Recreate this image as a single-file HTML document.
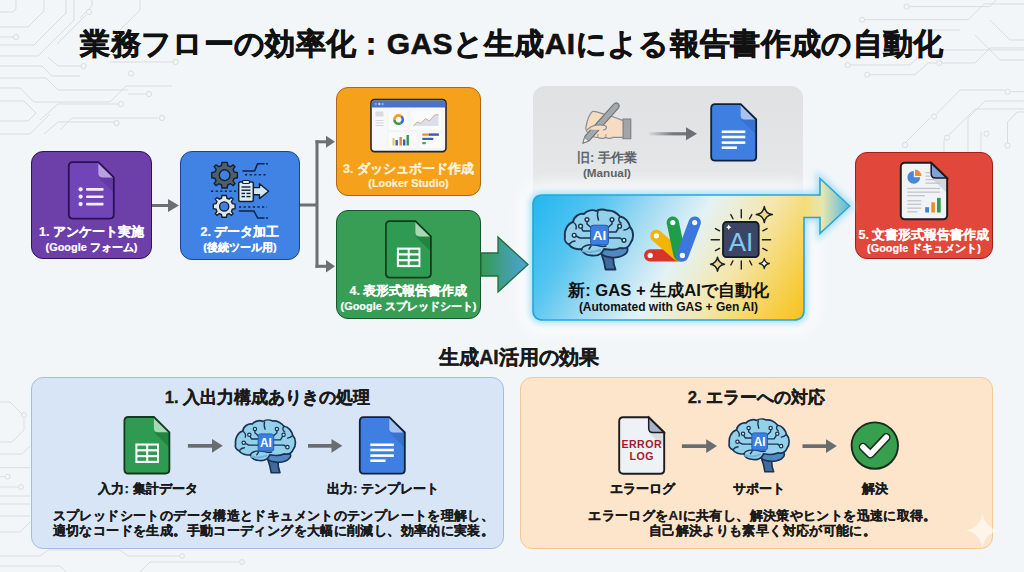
<!DOCTYPE html>
<html lang="ja">
<head>
<meta charset="utf-8">
<style>
*{box-sizing:border-box;margin:0;padding:0}
html,body{width:1024px;height:572px;overflow:hidden}
body{position:relative;background:#f2f6f9;font-family:"Liberation Sans",sans-serif;color:#1a1a1a}
.abs{position:absolute}
.title{position:absolute;left:0;top:25px;width:1024px;text-align:center;font-size:30px;font-weight:bold;line-height:38px;white-space:nowrap;color:#111;letter-spacing:0.35px;-webkit-text-stroke:0.6px #111}
.box{position:absolute;border-radius:12px;color:#fff;text-align:center;font-weight:bold;white-space:nowrap}
.box .t1{position:absolute;left:0;width:100%;font-size:12.5px;line-height:15px;-webkit-text-stroke:0.2px currentColor}
.box .t2{position:absolute;left:0;width:100%;font-size:10.9px;line-height:12px;-webkit-text-stroke:0.2px currentColor}
.purple{left:31px;top:151px;width:121px;height:108px;background:#6c3fa9;border:1.5px solid #321260}
.blue{left:180px;top:151px;width:120px;height:109px;background:#4083e4;border:1.5px solid #1c4390}
.orange{left:336px;top:87px;width:145px;height:109px;background:#f5a11c;border:1.5px solid #a86a14;color:#fdf1d8}
.green{left:336px;top:210px;width:145px;height:109px;background:#389d55;border:1.5px solid #17552a}
.red{left:855px;top:152px;width:138px;height:107px;background:#e1473a;border:1.5px solid #9c2219}
.gray{position:absolute;left:533px;top:86px;width:270px;height:150px;background:linear-gradient(#dfe1e3,#e5e6e8 60%,#eceef0);border-radius:12px}
.panel{position:absolute;border-radius:12px;text-align:center}
.pl{left:31px;top:377px;width:473px;height:172px;background:#d8e5f7;border:1.5px solid #a3bde2}
.pr{left:520px;top:377px;width:473px;height:172px;background:#fce5cb;border:1.5px solid #f1c995}
.ph{position:absolute;left:0;width:100%;font-size:16.7px;font-weight:bold;line-height:20px;-webkit-text-stroke:0.3px #1a1a1a}
.lab{position:absolute;font-size:13.4px;font-weight:bold;-webkit-text-stroke:0.25px #1a1a1a;line-height:16px;white-space:nowrap;transform:translateX(-50%)}
.desc{position:absolute;left:6px;width:100%;font-size:13.4px;letter-spacing:0.38px;font-weight:bold;-webkit-text-stroke:0.2px #1a1a1a;line-height:16px;white-space:nowrap}
.sub{position:absolute;left:7px;width:1024px;top:346px;text-align:center;font-size:19.5px;font-weight:bold;line-height:22px;-webkit-text-stroke:0.4px #1a1a1a}
</style>
</head>
<body>
<svg class="abs" style="left:0;top:0" width="1024" height="572" id="bg">
  <g fill="none" stroke="#d8dde2" stroke-width="1" stroke-linejoin="round">
    <path d="M0 12 H13 L16 9 V0"/>
    <path d="M0 27 H28 L44 11 V0"/>
    <path d="M0 37 H13"/>
    <path d="M0 45 H34 L66 13 V0"/>
    <path d="M0 56 H38 L74 20 V0"/>
    <path d="M57 44 L86 15"/>
    <path d="M0 66 H42 L52 76 H80"/>
    <path d="M48 57 L58 66 H81"/>
    <path d="M0 78 H46 L58 90 H128"/>
    <path d="M0 88 H20 L34 102 H110 L126 86 H172"/>
    <path d="M0 101 H24 L36 113 L28 121 H0"/>
    <path d="M40 120 L58 104 H118"/>
    <path d="M0 134 H30 L50 114"/>
    <path d="M44 134 L58 122 H114"/>
    <path d="M110 62 H173"/>
    <path d="M146 94 L128 94"/>
    <path d="M60 130 L72 118 H158"/>
    <path d="M92 0 V6 L80 18"/>
    <path d="M140 0 V10 L118 32"/>
  </g>
  <g fill="#f2f6f9" stroke="#d8dde2" stroke-width="1">
    <circle cx="16" cy="37" r="2.6"/><circle cx="89" cy="12" r="2.6"/><circle cx="83.5" cy="66" r="2.6"/>
    <circle cx="131" cy="73.5" r="2.6"/><circle cx="175.6" cy="62" r="2.6"/><circle cx="149" cy="94" r="2.6"/>
    <circle cx="121" cy="104" r="2.6"/><circle cx="162" cy="118" r="2.6"/><circle cx="116.6" cy="123" r="2.6"/>
  </g>
  <g fill="none" stroke="#d8dde2" stroke-width="1" stroke-linejoin="round">
    <path d="M865 19.7 H968 L984 4 H1024"/>
    <path d="M909 6.6 H990 L996 0"/>
    <path d="M850 65 H910 L926 50 H1024"/>
    <path d="M870 74.7 H915 L928 63 H936"/>
    <path d="M942 63 H975 L990 48 H1024"/>
    <path d="M990 20 L1010 40 H1024"/>
    <path d="M975 35 L1000 60 H1024"/>
    <path d="M936.5 114 L960 90 H1004.5"/>
    <path d="M949 135 L975 109 H1024"/>
    <path d="M968 152 V118 L985 101 H1024"/>
    <path d="M981 152 V132"/>
    <path d="M1007.5 143 V122 L1017 112 H1024"/>
    <path d="M1010 91.7 H1024"/>
    <path d="M920 30 H960"/>
    <path d="M944 152 V140 L960 124"/>
    <path d="M905 143 L930 118"/>
  </g>
  <g fill="#f2f6f9" stroke="#d8dde2" stroke-width="1">
    <circle cx="862" cy="19.7" r="2.6"/><circle cx="906.6" cy="6.6" r="2.6"/><circle cx="847.6" cy="65" r="2.6"/>
    <circle cx="867.2" cy="74.7" r="2.6"/><circle cx="939.3" cy="63" r="2.6"/><circle cx="934" cy="116.6" r="2.6"/>
    <circle cx="947" cy="137.6" r="2.6"/><circle cx="1007.5" cy="91.7" r="2.6"/><circle cx="986.5" cy="133.7" r="2.6"/>
    <circle cx="1007.5" cy="145.5" r="2.6"/><circle cx="905" cy="145" r="2.6"/>
  </g>
  <g fill="none" stroke="#d9dee3" stroke-width="1" stroke-linejoin="round">
    <path d="M0 402 H10 L24 416"/>
    <path d="M24 418 V430 L12 442 H0"/>
    <path d="M0 454 H22 L30 446"/>
    <path d="M0 467.7 H30"/>
    <path d="M0 476.7 H5"/>
    <path d="M0 487 H18"/>
    <path d="M0 496 H30"/>
    <path d="M0 504 H30"/>
    <path d="M0 516 H30"/>
    <path d="M0 532 H20 L30 522"/>
    <path d="M0 556 H40 L48 550 H120 L128 556 H180"/>
    <path d="M0 566 H60 L66 572"/>
    <path d="M140 572 L150 562 H240"/>
  </g>
  <g fill="#f2f6f9" stroke="#d9dee3" stroke-width="1">
    <circle cx="24" cy="415" r="2.4"/><circle cx="7.5" cy="476.7" r="2.4"/><circle cx="21" cy="487" r="2.4"/><circle cx="182" cy="556" r="2.4"/><circle cx="242" cy="562" r="2.4"/>
  </g>
</svg>

<div class="title">業務フローの効率化：GASと生成AIによる報告書作成の自動化</div>

<!-- flow boxes -->
<div class="box purple">
  <div class="t1" style="top:73px">1. アンケート実施</div>
  <div class="t2" style="top:89.3px">(Google フォーム)</div>
</div>
<div class="box blue">
  <div class="t1" style="top:73px">2. データ加工</div>
  <div class="t2" style="top:89.3px">(後続ツール用)</div>
</div>
<div class="box orange">
  <div class="t1" style="top:74px">3. ダッシュボード作成</div>
  <div class="t2" style="top:89.3px">(Looker Studio)</div>
</div>
<div class="box green">
  <div class="t1" style="top:73px">4. 表形式報告書作成</div>
  <div class="t2" style="top:89.3px">(Google スプレッドシート)</div>
</div>
<div class="box red">
  <div class="t1" style="top:75px">5. 文書形式報告書作成</div>
  <div class="t2" style="top:89px">(Google ドキュメント)</div>
</div>

<div class="gray"></div>

<svg class="abs" style="left:0;top:0;overflow:visible" width="1024" height="572">
  <defs>
    <linearGradient id="gNew" x1="533" y1="195" x2="782" y2="354" gradientUnits="userSpaceOnUse">
      <stop offset="0" stop-color="#22b6ef"/>
      <stop offset="0.2" stop-color="#55c5f1"/>
      <stop offset="0.36" stop-color="#a2dbf3"/>
      <stop offset="0.52" stop-color="#e4f2f6"/>
      <stop offset="0.7" stop-color="#f4e7ae"/>
      <stop offset="0.86" stop-color="#f6d35a"/>
      <stop offset="1" stop-color="#f6c21c"/>
    </linearGradient>
    <linearGradient id="gArr" x1="804" y1="0" x2="850" y2="0" gradientUnits="userSpaceOnUse">
      <stop offset="0" stop-color="#f5dc78"/>
      <stop offset="0.4" stop-color="#e6e6ae"/>
      <stop offset="1" stop-color="#52b6e6"/>
    </linearGradient>
    <linearGradient id="gBig" x1="482" y1="0" x2="528" y2="0" gradientUnits="userSpaceOnUse">
      <stop offset="0" stop-color="#359a57"/>
      <stop offset="1" stop-color="#4ea3dc"/>
    </linearGradient>
    <filter id="glow2" x="-30%" y="-50%" width="160%" height="200%"><feGaussianBlur stdDeviation="3"/></filter>
    <filter id="glow" x="-30%" y="-50%" width="160%" height="200%">
      <feGaussianBlur stdDeviation="9"/>
    </filter>
  </defs>
  <!-- connectors -->
  <g fill="#6c6f73" stroke="none">
    <rect x="152" y="204" width="17" height="3"/>
    <path d="M168 199 L179 205.5 L168 212 Z"/>
    <rect x="300" y="203.5" width="17" height="3"/>
    <rect x="315.5" y="140.3" width="3" height="127.5"/>
    <rect x="315.5" y="140.3" width="12" height="3"/>
    <path d="M326 135.8 L335 141.8 L326 147.8 Z"/>
    <rect x="315.5" y="264.8" width="12" height="3"/>
    <path d="M326 260 L335 266.3 L326 272.6 Z"/>
  </g>
  <!-- new box glow -->
  <rect x="533" y="195" width="271" height="125" rx="10" fill="#ffffff" opacity="0.95" filter="url(#glow)" stroke="#ffffff" stroke-width="22"/>
  <path d="M543 195 L820 195 L820 178.5 L849.5 206 L820 233.5 L820 217.5 L804 217.5 L804 310 Q804 320 794 320 L543 320 Q533 320 533 310 L533 205 Q533 195 543 195 Z" fill="#a8dff8" filter="url(#glow2)" stroke="#a8dff8" stroke-width="7"/>
  <!-- big arrow green->new -->
  <path d="M481 253 L498 253 L498 237 L528 264.5 L498 292 L498 276 L481 276 Z" fill="url(#gBig)" stroke="#1f6e3c" stroke-width="1.3"/>
  <path d="M543 195 L820 195 L820 178.5 L849.5 206 L820 233.5 L820 217.5 L804 217.5 L804 310 Q804 320 794 320 L543 320 Q533 320 533 310 L533 205 Q533 195 543 195 Z" fill="url(#gNew)"/>
  <path d="M803 196.2 L820.6 196.2 L820.6 180.3 L848.5 206 L820.6 231.7 L820.6 216.6 L803 216.6 Z" fill="url(#gArr)"/>
  <path d="M543 195 L820 195 L820 178.5 L849.5 206 L820 233.5 L820 217.5 L804 217.5 L804 310 Q804 320 794 320 L543 320 Q533 320 533 310 L533 205 Q533 195 543 195 Z" fill="none" stroke="#26a6dc" stroke-width="1.6"/>
</svg>

<div class="abs" style="left:533px;top:195px;width:271px;height:123px;text-align:center;font-weight:bold;white-space:nowrap;color:#111">
  <div class="abs" style="left:0;width:100%;top:86.3px;font-size:16.6px;line-height:20px">新: GAS + 生成AIで自動化</div>
  <div class="abs" style="left:0;width:100%;top:105px;font-size:12px;line-height:14px">(Automated with GAS + Gen AI)</div>
</div>
<div class="abs" style="left:566px;top:151px;width:82px;text-align:center;font-size:13px;font-weight:bold;color:#5f6368;white-space:nowrap;line-height:14px">旧: 手作業</div>
<div class="abs" style="left:566px;top:166px;width:82px;text-align:center;font-size:11.7px;font-weight:bold;color:#5f6368;white-space:nowrap;line-height:14px">(Manual)</div>

<svg class="abs" style="left:0;top:0;overflow:visible;z-index:2" width="1024" height="572">
  <defs>
    <path id="docShape" d="M4 0 H29.5 L45 15.3 V52.5 Q45 56.5 41 56.5 H4 Q0 56.5 0 52.5 V4 Q0 0 4 0 Z"/>
    <path id="foldShape" d="M29.5 0 V11 Q29.5 15.3 33.8 15.3 H45 Z"/>
    <path id="foldShadow" d="M29.5 15.3 L45 30.5 V15.3 Z"/>
    <symbol id="docsIcon" viewBox="0 0 45 57" overflow="visible">
      <use href="#docShape" fill="#3e7fe1"/>
      <use href="#foldShadow" fill="#3469c4" opacity="0.6"/>
      <use href="#foldShape" fill="#a9c3f0"/>
      <use href="#docShape" fill="none" stroke="#102038" stroke-width="1.8"/>
      <g fill="#ffffff">
        <rect x="10.5" y="26.3" width="23.6" height="2.6"/>
        <rect x="10.5" y="31.5" width="23.6" height="2.6"/>
        <rect x="10.5" y="37.1" width="23.6" height="2.6"/>
        <rect x="10.5" y="42.2" width="15.3" height="2.6"/>
      </g>
    </symbol>
    <symbol id="sheetsIcon" viewBox="0 0 45 57" overflow="visible">
      <use href="#docShape" fill="#2f9b52"/>
      <use href="#foldShadow" fill="#1e7a3c" opacity="0.7"/>
      <use href="#foldShape" fill="#a8d9b3"/>
      <use href="#docShape" fill="none" stroke="#123b1e" stroke-width="1.8"/>
      <rect x="11" y="26.5" width="23.5" height="19.5" fill="#ffffff"/>
      <g fill="#2f9b52">
        <rect x="13" y="28.6" width="8.8" height="3.6"/>
        <rect x="23.8" y="28.6" width="8.8" height="3.6"/>
        <rect x="13" y="34.4" width="8.8" height="3.6"/>
        <rect x="23.8" y="34.4" width="8.8" height="3.6"/>
        <rect x="13" y="40.2" width="8.8" height="3.6"/>
        <rect x="23.8" y="40.2" width="8.8" height="3.6"/>
      </g>
    </symbol>
    <symbol id="brain" viewBox="0 0 74 68" overflow="visible">
      <path d="M39.5 49 Q42.5 57 43.5 64.5 L53.5 64.5 Q50.5 57 51.5 50 Z" fill="#3f6b9e" stroke="#1b3350" stroke-width="1.8" stroke-linejoin="round"/>
      <path d="M38 44 C40 40 50 38 58 39 C64 40 67 43 65 47 C62 52 53 53.5 46 52 C41 51 37.5 48 38 44 Z" fill="#4f89c4" stroke="#1b3350" stroke-width="1.8"/>
      <path d="M3 32 C2 26 5 19 11 17 C12 11 18 8 22 9 C24 6 30 4 34 6 C37 4 42 4 45 5.5 C50 5 55 8 58 11.5 C63 12 67 17 68 22 C72 26 72 34 68.5 38 C67 42 63 44 58 43 C54 45 47 45 42 44 C40 49 35 51 30 50.5 C25 50.5 21 48 19.5 44 C15 45 9 43 7 39.5 C4 38 2 35 3 32 Z" fill="#93d1ea" stroke="#1b3350" stroke-width="1.9" stroke-linejoin="round"/>
      <path d="M20 43.5 C22 39.5 30 39 36 40.5 C39 41.3 41 42 44 41" fill="none" stroke="#1b3350" stroke-width="1.5" stroke-linecap="round"/>
      <path d="M21 46 C26 47.5 33 47 38 45" fill="none" stroke="#6fb2da" stroke-width="2.2" stroke-linecap="round"/>
      <g fill="none" stroke="#1b3350" stroke-width="1.5" stroke-linecap="round" stroke-linejoin="round">
        <path d="M36 6.5 C35 9 35.5 12 36.5 15"/>
        <path d="M11 17 C14 19 15 21 14 24"/>
        <path d="M58 11.5 C56 14 56.5 16.5 59 18"/>
        <path d="M7 39.5 C9 37 11 36 13 36"/>
        <path d="M68 22 C66 24 64 25 62 25"/>
        <path d="M29 22.5 L25 19 L25 16.5"/>
        <path d="M29 26 L21 26 L19.5 23"/>
        <path d="M29 33 L18 33 L14 31"/>
        <path d="M46 22.5 L50 19 L50 16.5"/>
        <path d="M46 27 L54 27 L56.5 23"/>
        <path d="M46 33 L58 33 L60.5 35"/>
        <path d="M27 44 L29 41"/>
      </g>
      <g fill="#d4f0fa" stroke="#1b3350" stroke-width="1.4">
        <circle cx="25" cy="14.6" r="1.9"/><circle cx="50" cy="14.6" r="1.9"/><circle cx="18.6" cy="21.2" r="1.9"/>
        <circle cx="12.2" cy="30.3" r="1.9"/><circle cx="57.6" cy="21.2" r="1.9"/><circle cx="62" cy="35.3" r="1.9"/>
      </g>
      <rect x="28.6" y="20.2" width="17.8" height="19.7" rx="2.6" fill="#3b7fe2" stroke="#2656aa" stroke-width="1"/>
      <text x="37.5" y="35.3" text-anchor="middle" font-family="Liberation Sans, sans-serif" font-weight="bold" font-size="13.5" fill="#ffffff">AI</text>
    </symbol>
  </defs>

  <!-- Forms icon -->
  <g transform="translate(68.8,162.1)">
    <use href="#docShape" fill="#7145b8"/>
    <use href="#foldShadow" fill="#5a339a" opacity="0.6"/>
    <use href="#foldShape" fill="#b9a0de"/>
    <use href="#docShape" fill="none" stroke="#2b1152" stroke-width="1.8"/>
    <g fill="#f4ecff">
      <circle cx="11.8" cy="27.2" r="2.1"/><circle cx="11.8" cy="34.5" r="2.1"/><circle cx="11.8" cy="42" r="2.1"/>
      <rect x="17.2" y="26" width="17.6" height="2.6" rx="1"/>
      <rect x="17.2" y="33.3" width="17.6" height="2.6" rx="1"/>
      <rect x="17.2" y="40.7" width="17.6" height="2.6" rx="1"/>
    </g>
  </g>

  <!-- Gears icon (blue box) -->
  <g>
    <g stroke="#0f2340" stroke-width="1.6" fill="none" stroke-linecap="round" stroke-linejoin="round">
      <polyline points="243,171 254.6,171 257.6,163.8 264,163.8"/>
      <polyline points="239.5,211 254,211 257.6,218 264,218"/>
    </g>
    <g stroke="#0f2340" stroke-width="1.5" fill="none" stroke-dasharray="2.2 2.4">
      <line x1="245" y1="174.8" x2="267" y2="174.8"/>
      <line x1="211" y1="191.3" x2="238" y2="191.3"/>
      <line x1="239" y1="207" x2="267" y2="207"/>
      <line x1="266" y1="163.8" x2="268" y2="163.8"/>
      <line x1="266" y1="218" x2="268" y2="218"/>
    </g>
    <!-- big gear -->
    <g transform="translate(224.6,175.2)">
      <g fill="#4d5e6c" stroke="#13202e" stroke-width="1.4">
        <path d="M-2.6,-12.8 L2.6,-12.8 L3.2,-9.6 L5.8,-8.5 L8.5,-10.4 L10.4,-8.5 L8.5,-5.8 L9.6,-3.2 L12.8,-2.6 L12.8,2.6 L9.6,3.2 L8.5,5.8 L10.4,8.5 L8.5,10.4 L5.8,8.5 L3.2,9.6 L2.6,12.8 L-2.6,12.8 L-3.2,9.6 L-5.8,8.5 L-8.5,10.4 L-10.4,8.5 L-8.5,5.8 L-9.6,3.2 L-12.8,2.6 L-12.8,-2.6 L-9.6,-3.2 L-8.5,-5.8 L-10.4,-8.5 L-8.5,-10.4 L-5.8,-8.5 L-3.2,-9.6 Z"/>
      </g>
      <circle r="5.4" fill="#3f80e0" stroke="#13202e" stroke-width="1.4"/>
    </g>
    <!-- small gear -->
    <g transform="translate(224.2,206.4) scale(0.85)">
      <g fill="#e3e8ec" stroke="#13202e" stroke-width="1.6">
        <path d="M-2.6,-12.8 L2.6,-12.8 L3.2,-9.6 L5.8,-8.5 L8.5,-10.4 L10.4,-8.5 L8.5,-5.8 L9.6,-3.2 L12.8,-2.6 L12.8,2.6 L9.6,3.2 L8.5,5.8 L10.4,8.5 L8.5,10.4 L5.8,8.5 L3.2,9.6 L2.6,12.8 L-2.6,12.8 L-3.2,9.6 L-5.8,8.5 L-8.5,10.4 L-10.4,8.5 L-8.5,5.8 L-9.6,3.2 L-12.8,2.6 L-12.8,-2.6 L-9.6,-3.2 L-8.5,-5.8 L-10.4,-8.5 L-8.5,-10.4 L-5.8,-8.5 L-3.2,-9.6 Z"/>
      </g>
      <circle r="5.4" fill="#3f80e0" stroke="#13202e" stroke-width="1.6"/>
    </g>
    <!-- arrow -->
    <path d="M252 187.6 L259.5 187.6 L259.5 183.8 L268.6 191.2 L259.5 198.6 L259.5 194.8 L252 194.8 Z" fill="#cfe7f3" stroke="#13202e" stroke-width="1.4" stroke-linejoin="round"/>
    <!-- clipboard -->
    <rect x="238.7" y="182" width="14.6" height="19.5" rx="1.5" fill="#dcedf5" stroke="#13202e" stroke-width="1.5"/>
    <rect x="242.5" y="180.5" width="7" height="3" rx="1" fill="#dcedf5" stroke="#13202e" stroke-width="1.2"/>
    <g fill="#13202e">
      <rect x="241.5" y="186.3" width="9" height="1.4"/>
      <rect x="241.5" y="189.5" width="9" height="1.4"/>
      <rect x="241.5" y="192.7" width="3.5" height="1.4"/><rect x="246.5" y="192.7" width="4" height="1.4"/>
      <rect x="241.5" y="195.9" width="3.5" height="1.4"/><rect x="246.5" y="195.9" width="4" height="1.4"/>
    </g>
  </g>

  <!-- Dashboard (orange) -->
  <g>
    <rect x="371" y="99.6" width="75" height="52" rx="3.5" fill="#f7f8fa" stroke="#262626" stroke-width="1.6"/>
    <path d="M371.8 103 Q371.8 100.4 374.5 100.4 H442.5 Q445.2 100.4 445.2 103 V107.6 H371.8 Z" fill="#4b72cb"/>
    <circle cx="375.8" cy="104" r="1.2" fill="#a48ee8"/><circle cx="379.3" cy="104" r="1.2" fill="#b9e0b0"/><circle cx="382.6" cy="104" r="1.2" fill="#6fb7d8"/>
    <rect x="375.5" y="111.5" width="8" height="5" fill="#d8dbe0"/>
    <rect x="375.5" y="120" width="8" height="0.9" fill="#cfd3d8"/><rect x="375.5" y="122.5" width="8" height="0.9" fill="#cfd3d8"/><rect x="375.5" y="125" width="8" height="0.9" fill="#cfd3d8"/>
    <rect x="388" y="110.5" width="20" height="20" fill="#fbfbfc" stroke="#eceef2" stroke-width="0.6"/>
    <rect x="410" y="110.5" width="32" height="20" fill="#fbfbfc" stroke="#eceef2" stroke-width="0.6"/>
    <rect x="388" y="132" width="29" height="16.5" fill="#fbfbfc" stroke="#eceef2" stroke-width="0.6"/>
    <rect x="419" y="132" width="23" height="16.5" fill="#fbfbfc" stroke="#eceef2" stroke-width="0.6"/>
    <circle cx="398.6" cy="119.6" r="4.2" fill="none" stroke="#3e6fd1" stroke-width="2.6" stroke-dasharray="4.4 17.6 4.4 100"/>
    <circle cx="398.6" cy="119.6" r="4.2" fill="none" stroke="#3a9a4e" stroke-width="2.6" stroke-dasharray="0 4.4 8.8 100"/>
    <circle cx="398.6" cy="119.6" r="4.2" fill="none" stroke="#f19a2b" stroke-width="2.6" stroke-dasharray="0 13.2 8.8 100"/>
    <path d="M413.5 126 L417 122 L421 123.5 L425.5 118.5 L429.5 121 L434.5 115 L438.5 114.8 L438.5 126 Z" fill="#d9dff0"/>
    <polyline points="413.5,126 417,122 421,123.5 425.5,118.5 429.5,121 434.5,115 438.5,114.5" fill="none" stroke="#e0a27a" stroke-width="0.9"/>
    <rect x="392.5" y="138" width="2" height="7.5" fill="#e8c65a"/><rect x="395.5" y="140" width="2.4" height="5.5" fill="#3e5fb8"/>
    <rect x="399.5" y="137" width="2.4" height="8.5" fill="#e08a3a"/><rect x="403" y="139.5" width="2.4" height="6" fill="#3e5fb8"/>
    <rect x="406.5" y="135" width="2.4" height="10.5" fill="#2f9a4a"/>
    <rect x="422.3" y="133.5" width="16.5" height="2.2" fill="#e08a3a"/><rect x="429" y="133.5" width="9.8" height="2.2" fill="#3e5fb8"/>
    <rect x="422.3" y="137.8" width="11" height="2.2" fill="#3e5fb8"/>
    <rect x="422.3" y="142" width="3.5" height="2.2" fill="#4aa05a"/>
  </g>

  <!-- Sheets icon (green box) -->
  <use href="#sheetsIcon" x="385.9" y="221.1" width="45" height="57"/>
  <!-- Docs icon (gray box) -->
  <use href="#docsIcon" x="711.2" y="104.2" width="45" height="57"/>
  <!-- Brain new box -->
  <use href="#brain" x="562" y="205" width="74" height="68"/>
  <!-- Apps Script logo -->
  <g stroke-linecap="round" fill="none">
    <line x1="650.2" y1="255.4" x2="680.8" y2="255.4" stroke="#d9342b" stroke-width="12.3"/>
    <line x1="656.4" y1="235.8" x2="678" y2="254.5" stroke="#f5b400" stroke-width="12.3"/>
    <line x1="672.8" y1="222.6" x2="679.5" y2="254.5" stroke="#1e9e48" stroke-width="12.3"/>
    <line x1="694.7" y1="222.6" x2="682.4" y2="255.4" stroke="#3d76dd" stroke-width="12.3"/>
  </g>
  <g fill="#ffffff">
    <circle cx="650.2" cy="255.4" r="2.6"/><circle cx="656.4" cy="235.8" r="2.6"/><circle cx="672.8" cy="222.6" r="2.6"/>
    <circle cx="694.7" cy="222.6" r="2.6"/><circle cx="682.4" cy="255.4" r="2.6"/>
  </g>

  <!-- AI chip with sparkles -->
  <g stroke="#1b1f2a" stroke-width="1.4" stroke-linecap="round" fill="none">
    <line x1="741.3" y1="209.7" x2="741.3" y2="217.8"/>
    <line x1="741.3" y1="261" x2="741.3" y2="269"/>
    <line x1="711.2" y1="239.8" x2="719.4" y2="239.8"/>
    <line x1="762.4" y1="239.8" x2="770.6" y2="239.8"/>
    <line x1="730.8" y1="214.6" x2="733" y2="218.8"/><line x1="751.8" y1="214.6" x2="749.6" y2="218.8"/>
    <line x1="730.8" y1="265" x2="733" y2="260.8"/><line x1="751.8" y1="265" x2="749.6" y2="260.8"/>
    <line x1="715.4" y1="228.6" x2="719.6" y2="230.8"/><line x1="715.4" y1="250.6" x2="719.6" y2="248.4"/>
    <line x1="767" y1="228.6" x2="762.8" y2="230.8"/><line x1="767" y1="250.6" x2="762.8" y2="248.4"/>
  </g>
  <rect x="723" y="222" width="35.7" height="35.2" rx="3.5" fill="#3c4565" stroke="#151a26" stroke-width="1.8"/>
  <text x="741" y="250.5" text-anchor="middle" font-family="Liberation Sans, sans-serif" font-size="26" fill="#7fcaf0">AI</text>
  <path d="M728.7 224.4 Q729.2 226.7 731.4 227.2 Q729.2 227.7 728.7 230 Q728.2 227.7 726 227.2 Q728.2 226.7 728.7 224.4 Z" fill="#ffffff"/>
  <g fill="#f1d98c" stroke="#1b1f2a" stroke-width="1.5" stroke-linejoin="round">
    <path d="M764.3 206.6 Q765.3 213.6 772.3 214.6 Q765.3 215.6 764.3 222.6 Q763.3 215.6 756.3 214.6 Q763.3 213.6 764.3 206.6 Z"/>
    <path d="M717.5 257.2 Q718.4 263.3 724.5 264.2 Q718.4 265.1 717.5 271.2 Q716.6 265.1 710.5 264.2 Q716.6 263.3 717.5 257.2 Z"/>
  </g>
  <path d="M764.3 258.5 Q764.9 262.9 769.3 263.5 Q764.9 264.1 764.3 268.5 Q763.7 264.1 759.3 263.5 Q763.7 262.9 764.3 258.5 Z" fill="#eaf6fb" stroke="#1b1f2a" stroke-width="1.3" stroke-linejoin="round"/>

  <!-- Hand writing icon -->
  <g stroke-linejoin="round" stroke-linecap="round">
    <rect x="623" y="119" width="7.8" height="19.8" fill="#a2a4a8" stroke="#7d7f83" stroke-width="1.1"/>
    <path d="M592.5 111.5 C589 114 587 121 585.8 128 C585.5 131 588 133.5 591 133.5 C592.5 136.5 595 137.8 598 137.4 C600 138.6 604 138.6 606 137.5 C608 138.6 611 138.4 613 137.4 L623 137.4 L623 120.5 C618 118.5 612 116 606.5 115 C602 114 597 111 592.5 111.5 Z" fill="#f5dcc2" stroke="#8b8c8f" stroke-width="1.2"/>
    <path d="M583 143 L585 136.2 L613.5 104.3 Q616 101.8 618.3 103.9 Q620.3 106 617.9 108.7 L589.6 140.4 Z" fill="#a3a8ad" stroke="#6f7377" stroke-width="1.1"/>
    <path d="M583 143 L584.6 137.3 L588.4 140.8 Z" fill="#e9ecef" stroke="#6f7377" stroke-width="0.8"/>
    <path d="M587.5 129.5 C591 125.5 598 124 604.5 125.5 C607.5 126.4 607 129.5 603.5 130" fill="#f5dcc2" stroke="#8b8c8f" stroke-width="1.2"/>
    <path d="M598 134.5 C597.5 136 597.6 137 598 137.4 M606 134.6 C605.6 136 605.7 137 606 137.5" fill="none" stroke="#8b8c8f" stroke-width="1"/>
  </g>
  <!-- small arrow in gray box -->
  <defs>
    <linearGradient id="gGrayArr" x1="649" y1="0" x2="697" y2="0" gradientUnits="userSpaceOnUse">
      <stop offset="0" stop-color="#7a7d81" stop-opacity="0.1"/>
      <stop offset="0.5" stop-color="#75787c"/>
      <stop offset="1" stop-color="#6c6f73"/>
    </linearGradient>
  </defs>
  <rect x="649" y="132.2" width="38" height="3.2" fill="url(#gGrayArr)"/>
  <path d="M686 127.3 L697 133.8 L686 140.3 Z" fill="#6c6f73"/>

  <!-- Red box doc w/ charts -->
  <g transform="translate(900.8,162.8) scale(1.03,1)">
    <use href="#docShape" fill="#f1f3f6"/>
    <use href="#foldShadow" fill="#c9cfd8" opacity="0.8"/>
    <use href="#foldShape" fill="#7fa2da" stroke="#1d1d1f" stroke-width="1.5"/>
    <use href="#docShape" fill="none" stroke="#1d1d1f" stroke-width="1.9"/>
  </g>
  <path d="M913.8 177.3 L913.8 170.9 A6.4 6.4 0 1 0 920.2 177.3 Z" fill="#4a86d8"/>
  <path d="M915 176 L915 169.6 A6.4 6.4 0 0 1 921.4 176 Z" fill="#f08a2a"/>
  <g fill="#bfc5cd">
    <rect x="925.5" y="172" width="4.7" height="1.3"/><rect x="925.5" y="175.5" width="4.7" height="1.3"/>
    <rect x="925.5" y="179" width="8.7" height="1.3"/><rect x="925.5" y="182.5" width="14.6" height="1.3"/>
    <rect x="907.3" y="187.8" width="32.8" height="1.3"/><rect x="907.3" y="191.5" width="32.8" height="1.3"/>
    <rect x="907.3" y="195" width="17.6" height="1.3"/>
    <rect x="907.3" y="200.1" width="14" height="1.3"/><rect x="907.3" y="203.6" width="14" height="1.3"/>
    <rect x="907.3" y="207.5" width="14" height="1.3"/><rect x="907.3" y="211.2" width="10" height="1.3"/>
  </g>
  <rect x="925.2" y="207.2" width="3.8" height="5.3" fill="#4a7fd0"/>
  <rect x="931.3" y="202.3" width="3.6" height="10.2" fill="#ef8b2f"/>
  <rect x="937" y="197.9" width="3.7" height="14.6" fill="#2f9e4b"/>

  <!-- bottom left panel icons -->
  <use href="#sheetsIcon" x="124.4" y="417" width="45" height="57"/>
  <use href="#brain" x="233" y="416" width="65" height="60"/>
  <use href="#docsIcon" x="359.8" y="417.2" width="45" height="57"/>
  <!-- bottom right panel icons -->
  <g transform="translate(619.2,417.2)">
    <use href="#docShape" fill="#eef1f5"/>
    <use href="#foldShadow" fill="#cfd5de" opacity="0.7"/>
    <use href="#foldShape" fill="#a6b3c8" stroke="#1d1d1f" stroke-width="1.5"/>
    <use href="#docShape" fill="none" stroke="#1d1d1f" stroke-width="1.9"/>
    <text x="22.6" y="31" text-anchor="middle" font-family="Liberation Sans, sans-serif" font-weight="bold" font-size="10.6" letter-spacing="0.5" fill="#a8182c">ERROR</text>
    <text x="22.6" y="42.6" text-anchor="middle" font-family="Liberation Sans, sans-serif" font-weight="bold" font-size="10.6" letter-spacing="0.5" fill="#a8182c">LOG</text>
  </g>
  <use href="#brain" x="726.7" y="415" width="65" height="60"/>
  <circle cx="874.8" cy="445.6" r="23.2" fill="#37a04f" stroke="#1a2a1e" stroke-width="1.9"/>
  <path d="M863 447 L870.3 454.3 L886.3 437.3" fill="none" stroke="#1a2a1e" stroke-width="8.6" stroke-linecap="round" stroke-linejoin="round"/>
  <path d="M863 447 L870.3 454.3 L886.3 437.3" fill="none" stroke="#ffffff" stroke-width="5.6" stroke-linecap="round" stroke-linejoin="round"/>
  <!-- panel arrows -->
  <g fill="#696c70">
    <rect x="187.9" y="444" width="25" height="3.7"/><path d="M212 438.9 L222.8 445.8 L212 452.8 Z"/>
    <rect x="308" y="444" width="25" height="3.7"/><path d="M331.5 438.9 L342.3 445.8 L331.5 452.8 Z"/>
    <rect x="681.9" y="444.3" width="25" height="3.7"/><path d="M706.2 439.2 L717 446.1 L706.2 453 Z"/>
    <rect x="802.5" y="444.3" width="25" height="3.7"/><path d="M826 439.2 L836.8 446.1 L826 453 Z"/>
  </g>
  <path d="M982.5 513 Q985 528 999 530.4 Q985 533 982.5 548 Q980 533 966 530.4 Q980 528 982.5 513 Z" fill="#ffffff" opacity="0.6"/>
</svg>


<div class="sub">生成AI活用の効果</div>
<div class="panel pl">
  <div class="ph" style="top:10px">1. 入出力構成ありきの処理</div>
  <div class="lab" style="left:116px;top:103px">入力: 集計データ</div>
  <div class="lab" style="left:351px;top:103px">出力: テンプレート</div>
  <div class="desc" style="top:130px">スプレッドシートのデータ構造とドキュメントのテンプレートを理解し、</div>
  <div class="desc" style="top:144.5px">適切なコードを生成。手動コーディングを大幅に削減し、効率的に実装。</div>
</div>
<div class="panel pr">
  <div class="ph" style="top:10px">2. エラーへの対応</div>
  <div class="lab" style="left:121px;top:103px">エラーログ</div>
  <div class="lab" style="left:238px;top:103px">サポート</div>
  <div class="lab" style="left:354px;top:103px">解決</div>
  <div class="desc" style="top:130px">エラーログをAIに共有し、解決策やヒントを迅速に取得。</div>
  <div class="desc" style="top:144.5px">自己解決よりも素早く対応が可能に。</div>
</div>
</body>
</html>
